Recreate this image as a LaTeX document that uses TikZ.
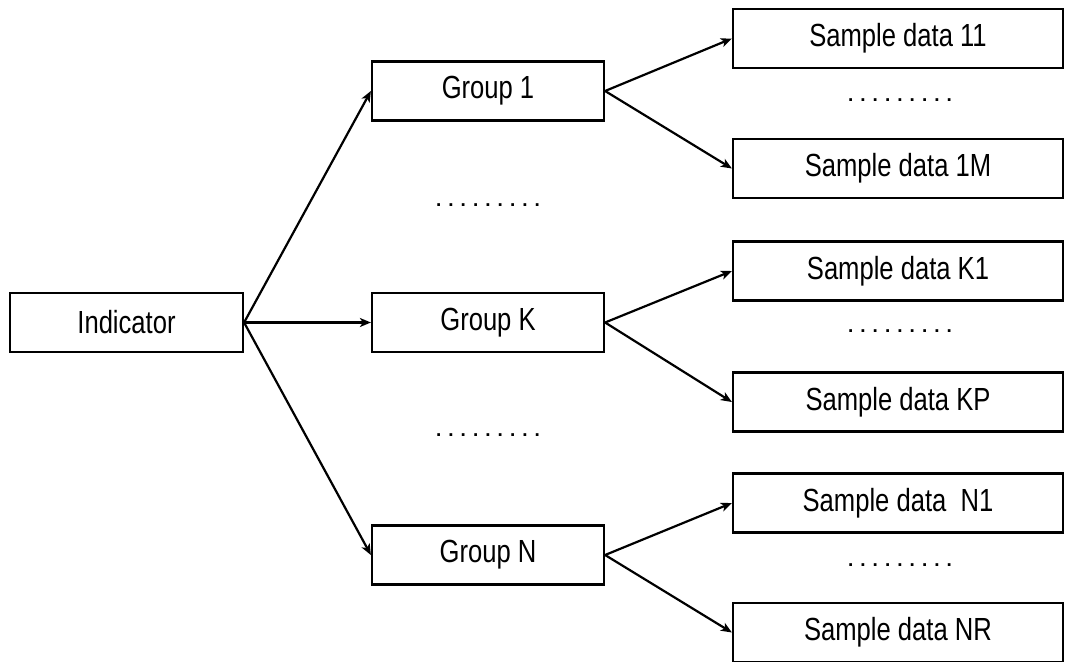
\documentclass[tikz,border=0pt]{standalone}
\usepackage{fontspec}
\setmainfont[FakeStretch=0.8]{Liberation Sans}
\usetikzlibrary{arrows.meta,positioning}

\tikzset{
  box/.style={rectangle, draw, line width=2.2pt, inner sep=0pt,
    minimum height=59pt, font=\fontsize{32}{38}\selectfont},
  smallbox/.style={box, minimum width=232pt},
  databox/.style={box, minimum width=330pt},
  gap/.style={inner sep=0pt, font=\fontsize{19}{22}\selectfont\bfseries\addfontfeature{FakeStretch=1}},
  link/.style={->, line width=2.2pt}
}

\begin{document}
\begin{tikzpicture}[x=1pt, y=-1pt, >={Stealth[length=11pt, width=9pt, inset=3pt]}]
  \useasboundingbox (0,0) rectangle (1065,661);
  % left column
  \node (ind) at (126.5,322.5) [smallbox, minimum width=233pt] {Indicator};
  % groups
  \node (g1) at (488,91) [smallbox] {Group 1};
  \node (gk) at (488,322.5) [smallbox] {Group K};
  \node (gn) at (488,555) [smallbox] {Group N};
  \node (gd1) at (488,205) [gap] {. . . . . . . . .};
  \node (gd2) at (488,435) [gap] {. . . . . . . . .};
  % sample data
  \node (s11) at (898,38.5) [databox] {Sample data 11};
  \node (s1m) at (898,168.5) [databox] {Sample data 1M};
  \node (sk1) at (898,271) [databox] {Sample data K1};
  \node (skp) at (898,402) [databox] {Sample data KP};
  \node (sn1) at (898,503) [databox] {Sample data\ \ N1};
  \node (snr) at (898,632.5) [databox] {Sample data NR};
  \node (sd1) at (900,100) [gap] {. . . . . . . . .};
  \node (sd2) at (900,331) [gap] {. . . . . . . . .};
  \node (sd3) at (900,565) [gap] {. . . . . . . . .};
  % connectors
  \draw [link] (ind.east) -- (g1.west);
  \draw [link] (ind.east) -- (gk.west);
  \draw [link] (ind.east) -- (gn.west);
  \draw [link] (g1.east) -- (s11.west);
  \draw [link] (g1.east) -- (s1m.west);
  \draw [link] (gk.east) -- (sk1.west);
  \draw [link] (gk.east) -- (skp.west);
  \draw [link] (gn.east) -- (sn1.west);
  \draw [link] (gn.east) -- (snr.west);
\end{tikzpicture}
\end{document}
